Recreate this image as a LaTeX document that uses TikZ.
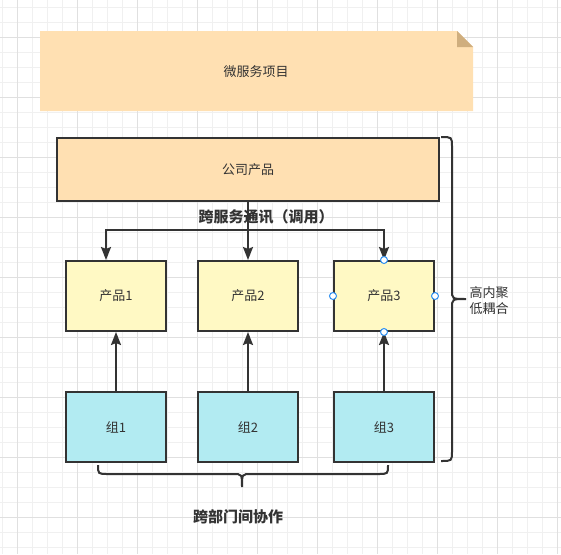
\documentclass[tikz,border=0pt]{standalone}
\usepackage{fontspec}
\setmainfont{Noto Sans CJK SC}
\usetikzlibrary{arrows.meta}
\usetikzlibrary{positioning}
\definecolor{mtext}{HTML}{333333}
\definecolor{mnote}{HTML}{FFE0B2}
\definecolor{mfold}{HTML}{CFAE7E}
\definecolor{mprod}{HTML}{FFF9C4}
\definecolor{mgroup}{HTML}{B2EBF2}
\definecolor{mgrid}{HTML}{F0F0F0}
\definecolor{mgridmajor}{HTML}{E0E0E0}
\definecolor{mhandle}{HTML}{2C8EF0}
\tikzset{box/.style = {draw = mtext, line width = 2pt, minimum width = 100pt, minimum height = 70pt, inner sep = 0, text = mtext, font = \fontsize{13}{15}\selectfont}}
\tikzset{prod/.style = {box, fill = mprod}}
\tikzset{grp/.style = {box, fill = mgroup}}
\tikzset{conn/.style = {draw = mtext, line width = 2pt, -{Stealth[length = 13pt, width = 10pt, inset = 2pt]}}}
\tikzset{brace/.style = {draw = mtext, line width = 2pt}}
\tikzset{handle/.style = {circle, draw = mhandle, fill = white, line width = 1pt, inner sep = 0, minimum size = 7pt}}
\tikzset{txt/.style = {text = mtext, font = \fontsize{13}{16}\selectfont}}
\tikzset{lbl/.style = {text = mtext, font = \fontsize{15}{18}\selectfont\bfseries}}

\begin{document}
\begin{tikzpicture}[x = 1pt, y = -1pt]
  \useasboundingbox [fill = white] (0, 0) rectangle (561, 554);
  % grid
  \foreach \x in {2.3, 17.3, ..., 561} \draw [mgrid, line width = 1pt] (\x, 0) -- (\x, 554);
  \foreach \y in {7.3, 22.3, ..., 554} \draw [mgrid, line width = 1pt] (0, \y) -- (561, \y);
  \foreach \x in {17.3, 77.3, ..., 561} \draw [mgridmajor, line width = 1pt] (\x, 0) -- (\x, 554);
  \foreach \y in {37.3, 97.3, ..., 554} \draw [mgridmajor, line width = 1pt] (0, \y) -- (561, \y);

  % note
  \fill [mnote] (40, 31) -- (457, 31) -- (473, 47) -- (473, 111) -- (40, 111) -- cycle;
  \fill [mfold] (457, 31) -- (457, 47) -- (473, 47) -- cycle;
  \node [txt] (note) at (256, 72) {微服务项目};

  \node [box, fill = mnote, minimum width = 382pt, minimum height = 62.5pt] (comp) at (248, 169.5) {公司产品};

  \node [prod] (p1) at (116, 296) {产品1};
  \node [prod] (p2) at (248, 296) {产品2};
  \node [prod] (p3) at (384, 296) {产品3};

  \node [grp] (g1) at (116, 427) {组1};
  \node [grp] (g2) at (248, 427) {组2};
  \node [grp] (g3) at (384, 427) {组3};

  \node [lbl] (call) at (266, 216.5) {跨服务通讯（调用）};
  \coordinate (j1) at (106, 230);
  \coordinate (j2) at (248, 230);
  \coordinate (j3) at (384, 230);
  \draw [conn] (comp.south) -- (p2.north);
  \draw [conn] (j2) -- (j1) -- (j1 |- p1.north);
  \draw [conn] (j2) -- (j3) -- (p3.north);

  \draw [conn] (g1.north) -- (p1.south);
  \draw [conn] (g2.north) -- (p2.south);
  \draw [conn] (g3.north) -- (p3.south);

  \node [handle] (h1) at (p3.north) {};
  \node [handle] (h2) at (p3.west) {};
  \node [handle] (h3) at (p3.east) {};
  \node [handle] (h4) at (p3.south) {};

  % braces
  \draw [brace] (441, 137) .. controls (452, 137) .. (452, 147) -- (452, 290)
    .. controls (452, 299) .. (466, 299) .. controls (452, 299) .. (452, 308)
    -- (452, 451) .. controls (452, 461) .. (441, 461);
  \node [txt, align = left, anchor = west] (coh) at (466, 301) {高内聚\\低耦合};

  \draw [brace] (98, 465) .. controls (98, 474) .. (108, 474) -- (233, 474)
    .. controls (242, 474) .. (242, 487) .. controls (242, 474) .. (251, 474)
    -- (378, 474) .. controls (388, 474) .. (388, 465);
  \node [lbl] (dept) at (238, 517) {跨部门间协作};
\end{tikzpicture}
\end{document}
